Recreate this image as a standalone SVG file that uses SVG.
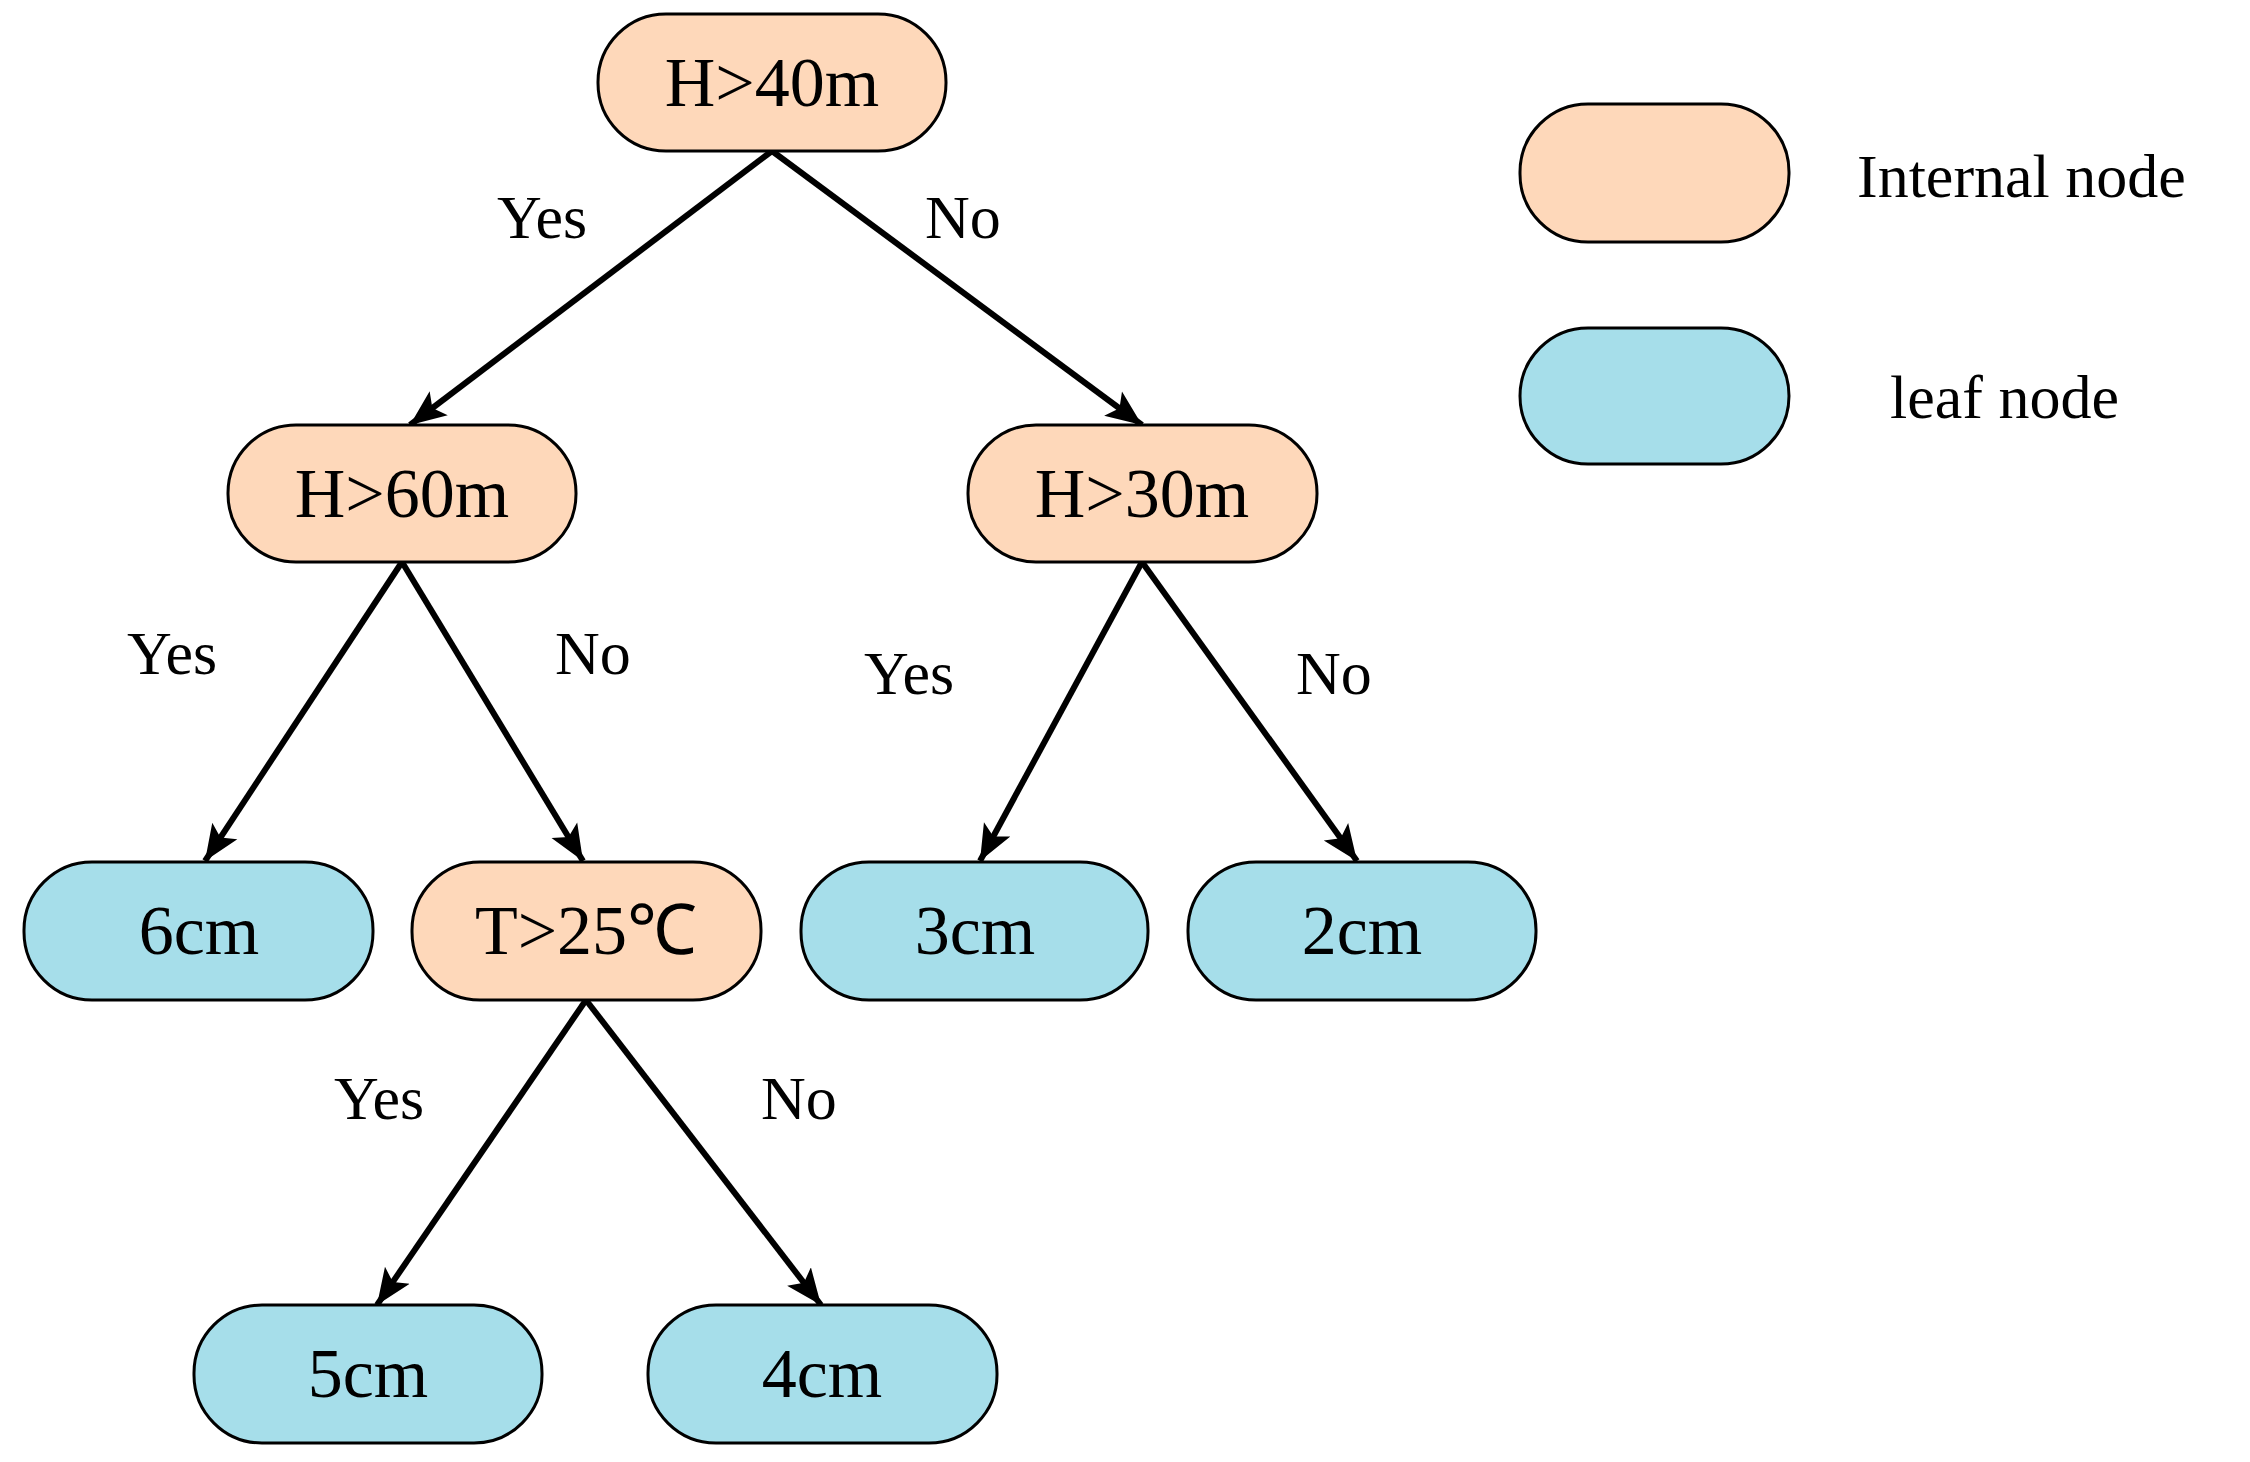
<svg xmlns="http://www.w3.org/2000/svg" width="2250" height="1462" viewBox="0 0 2250 1462">
<style>
.int{fill:#FED8BA;stroke:#000;stroke-width:3}
.leaf{fill:#A6DEEA;stroke:#000;stroke-width:3}
text{font-family:"Liberation Serif",serif;fill:#000}
.n{font-size:70px;text-anchor:middle}
.l{font-size:62px}
.e line{stroke:#000;stroke-width:6;marker-end:url(#a)}
</style>
<defs><marker id="a" markerUnits="userSpaceOnUse" markerWidth="40" markerHeight="40" refX="36" refY="15" orient="auto" viewBox="0 0 40 30"><path d="M0,0 L36,15 L0,30 L8,15 Z" fill="#000"/></marker></defs>
<rect width="2250" height="1462" fill="#fff"/>
<g class="e">
<line x1="772" y1="151" x2="410" y2="425"/>
<line x1="772" y1="151" x2="1142" y2="425"/>
<line x1="402" y1="562" x2="205" y2="861"/>
<line x1="402" y1="562" x2="583" y2="861"/>
<line x1="1142" y1="562" x2="980" y2="861"/>
<line x1="1142" y1="562" x2="1357" y2="861"/>
<line x1="586" y1="1000" x2="377" y2="1305"/>
<line x1="586" y1="1000" x2="821" y2="1305"/>
</g>
<g id="labels" class="l">
<text x="497" y="238">Yes</text><text x="925" y="238">No</text>
<text x="127" y="674">Yes</text><text x="555" y="674">No</text>
<text x="864" y="694">Yes</text><text x="1296" y="694">No</text>
<text x="334" y="1119">Yes</text><text x="761" y="1119">No</text>
</g>
<g id="n1"><rect class="int" x="598" y="14" width="348" height="137" rx="68"/><text class="n" x="772" y="106">H&gt;40m</text></g>
<g id="n2"><rect class="int" x="228" y="425" width="348" height="137" rx="68"/><text class="n" x="402" y="517">H&gt;60m</text></g>
<g id="n3"><rect class="int" x="968" y="425" width="349" height="137" rx="68"/><text class="n" x="1142" y="517">H&gt;30m</text></g>
<g id="n4"><rect class="leaf" x="24" y="862" width="349" height="138" rx="68"/><text class="n" x="199" y="954">6cm</text></g>
<g id="n5"><rect class="int" x="412" y="862" width="349" height="138" rx="68"/><text class="n" x="586" y="954">T&gt;25℃</text></g>
<g id="n6"><rect class="leaf" x="801" y="862" width="347" height="138" rx="68"/><text class="n" x="975" y="954">3cm</text></g>
<g id="n7"><rect class="leaf" x="1188" y="862" width="348" height="138" rx="68"/><text class="n" x="1362" y="954">2cm</text></g>
<g id="n8"><rect class="leaf" x="194" y="1305" width="348" height="138" rx="68"/><text class="n" x="368" y="1397">5cm</text></g>
<g id="n9"><rect class="leaf" x="648" y="1305" width="349" height="138" rx="68"/><text class="n" x="822" y="1397">4cm</text></g>
<g id="legend">
<rect class="int" x="1520" y="104" width="269" height="138" rx="68"/>
<rect class="leaf" x="1520" y="328" width="269" height="136" rx="68"/>
<text class="l" x="1857" y="197">Internal node</text>
<text class="l" x="1890" y="418">leaf node</text>
</g>
</svg>
